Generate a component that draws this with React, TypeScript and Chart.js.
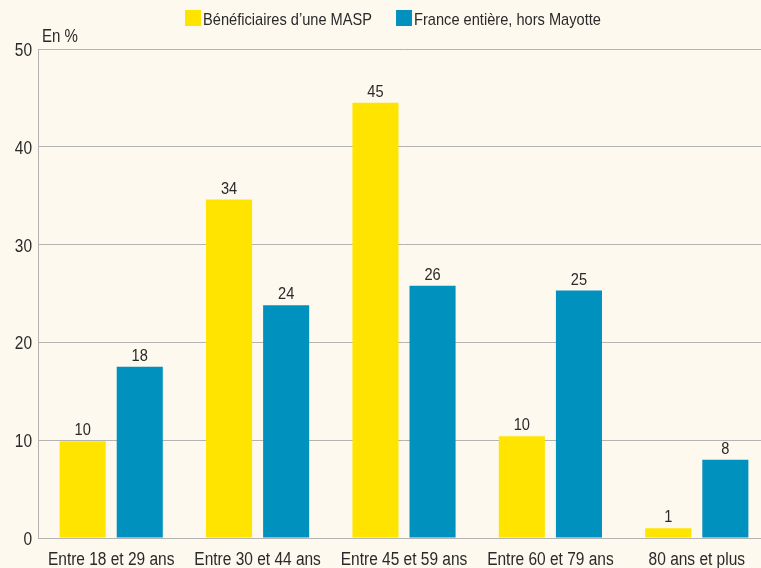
import { useEffect, useRef } from "react";
import { Chart, registerables } from "chart.js";

Chart.register(...registerables);

const categories = [
  "Entre 18 et 29 ans",
  "Entre 30 et 44 ans",
  "Entre 45 et 59 ans",
  "Entre 60 et 79 ans",
  "80 ans et plus",
];
const seriesNames = ["Bénéficiaires d’une MASP", "France entière, hors Mayotte"];
const maspValues = [9.9, 34.6, 44.5, 10.4, 1.0];
const franceValues = [17.5, 23.8, 25.8, 25.3, 8.0];
const maspLabels = ["10", "34", "45", "10", "1"];
const franceLabels = ["18", "24", "26", "25", "8"];
const yTicks = [0, 10, 20, 30, 40, 50];
const unitLabel = "En %";

const FONT = "'Liberation Sans', Arial, sans-serif";
const SQUEEZE = 0.86;
const BG = "#fef9ee";
const TEXT = "#2a2a2a";
const GRID = "#b3b3b3";
const YELLOW = "#ffe400";
const BLUE = "#0191bf";

const valueLabels = [maspLabels, franceLabels];

function condensedText(
  ctx: CanvasRenderingContext2D,
  text: string,
  x: number,
  y: number,
  size: number,
  align: CanvasTextAlign
) {
  ctx.save();
  ctx.font = `${size}px ${FONT}`;
  ctx.fillStyle = TEXT;
  ctx.textAlign = align;
  ctx.textBaseline = "alphabetic";
  ctx.translate(x, y);
  ctx.scale(SQUEEZE, 1);
  ctx.fillText(text, 0, 0);
  ctx.restore();
}

function condensedWidth(ctx: CanvasRenderingContext2D, text: string, size: number) {
  ctx.save();
  ctx.font = `${size}px ${FONT}`;
  const w = ctx.measureText(text).width * SQUEEZE;
  ctx.restore();
  return w;
}

const bgPlugin = {
  id: "bg",
  beforeDraw(chart: any) {
    const { ctx, width, height } = chart;
    ctx.save();
    ctx.fillStyle = BG;
    ctx.fillRect(0, 0, width, height);
    ctx.restore();
  },
};

const legendPlugin = {
  id: "customLegend",
  afterDraw(chart: any) {
    const ctx = chart.ctx;
    const size = 17;
    const box = 16;
    const gapText = 2;
    const gapItem = 24;
    let x = 185;
    const baseline = 25;
    chart.data.datasets.forEach((ds: any) => {
      ctx.save();
      ctx.fillStyle = ds.backgroundColor;
      ctx.fillRect(x, baseline - 15, box, box);
      ctx.restore();
      x += box + gapText;
      condensedText(ctx, ds.label, x, baseline, size, "left");
      x += condensedWidth(ctx, ds.label, size) + gapItem;
    });
  },
};

const axisTextPlugin = {
  id: "axisText",
  afterDraw(chart: any) {
    const ctx = chart.ctx;
    const area = chart.chartArea;
    const ys = chart.scales.y;
    ys.ticks.forEach((t: any, i: number) => {
      const py = ys.getPixelForTick(i);
      condensedText(ctx, String(t.value), area.left - 6, py + 7, 18, "right");
    });
    const xs = chart.scales.x;
    chart.data.labels.forEach((lab: string, i: number) => {
      const px = xs.getPixelForTick(i);
      condensedText(ctx, lab, px, 565, 18, "center");
    });
    condensedText(ctx, unitLabel, area.left + 4, 42, 17.5, "left");
  },
};

const valueLabelPlugin = {
  id: "valueLabels",
  afterDatasetsDraw(chart: any) {
    const ctx = chart.ctx;
    chart.data.datasets.forEach((_ds: any, di: number) => {
      const meta = chart.getDatasetMeta(di);
      meta.data.forEach((el: any, i: number) => {
        condensedText(ctx, valueLabels[di][i], el.x, el.y - 6, 17, "center");
      });
    });
  },
};

export default function App() {
  const ref = useRef<HTMLCanvasElement | null>(null);

  useEffect(() => {
    if (!ref.current) return;
    const chart = new Chart(ref.current, {
      type: "bar",
      data: {
        labels: categories,
        datasets: [
          {
            label: seriesNames[0],
            data: maspValues,
            backgroundColor: YELLOW,
            categoryPercentage: 0.78,
            barPercentage: 0.807,
          },
          {
            label: seriesNames[1],
            data: franceValues,
            backgroundColor: BLUE,
            categoryPercentage: 0.78,
            barPercentage: 0.807,
          },
        ],
      },
      options: {
        animation: false,
        responsive: false,
        layout: { padding: { top: 49, left: 0, right: 0, bottom: 0 } },
        plugins: {
          legend: { display: false },
          tooltip: { enabled: false },
        },
        scales: {
          x: {
            grid: { display: false, drawTicks: false },
            border: { display: true, color: GRID, width: 1 },
            ticks: { display: false, autoSkip: false },
            afterFit(scale: any) {
              scale.height = 30;
            },
          },
          y: {
            min: yTicks[0],
            max: yTicks[yTicks.length - 1],
            grid: { color: GRID, lineWidth: 1, drawTicks: false },
            border: { display: true, color: GRID, width: 1 },
            ticks: { display: false, stepSize: yTicks[1] - yTicks[0] },
            afterFit(scale: any) {
              scale.width = 38;
            },
          },
        },
      },
      plugins: [bgPlugin, legendPlugin, axisTextPlugin, valueLabelPlugin],
    });
    return () => chart.destroy();
  }, []);

  return (
    <div
      style={{
        position: "fixed",
        left: 0,
        top: 0,
        width: 761,
        height: 568,
        overflow: "hidden",
        background: BG,
      }}
    >
      <canvas ref={ref} width={770} height={568} style={{ display: "block" }} />
    </div>
  );
}
